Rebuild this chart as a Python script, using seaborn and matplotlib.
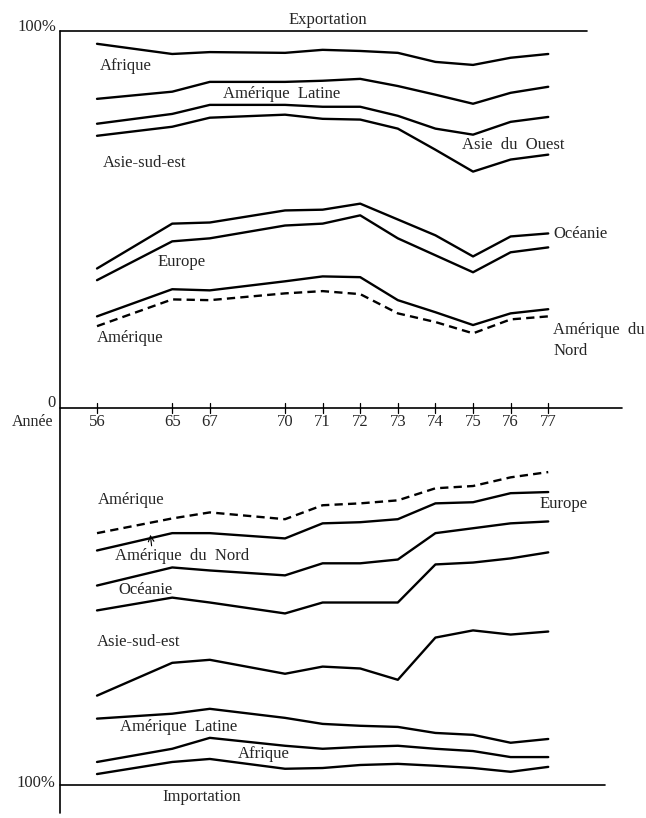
import matplotlib
matplotlib.use("Agg")
import matplotlib.pyplot as plt
import seaborn as sns

sns.set_style("white")
plt.rcParams["font.family"] = ["Liberation Serif", "DejaVu Serif"]

# years on the x axis (the scale is not linear in the original: 56-65 and 67-70 squeezed)
years = ["56", "65", "67", "70", "71", "72", "73", "74", "75", "76", "77"]
x_pos = [0, 2, 3, 5, 6, 7, 8, 9, 10, 11, 12]

# Exportation: cumulative shares (%) from 0 at the bottom, boundaries top -> bottom
exp_afrique_top = [96.6, 93.9, 94.4, 94.2, 95.0, 94.7, 94.2, 91.8, 91.0, 92.9, 93.9]
exp_am_latine_top = [82.0, 83.9, 86.5, 86.5, 86.8, 87.3, 85.4, 83.1, 80.7, 83.6, 85.2]
exp_asie_ouest_top = [75.4, 78.0, 80.4, 80.4, 79.9, 79.9, 77.5, 74.1, 72.5, 75.9, 77.2]
exp_asie_se_top = [72.2, 74.6, 77.0, 77.8, 76.7, 76.5, 74.1, 68.5, 62.7, 65.9, 67.2]
exp_oceanie_top = [37.0, 48.9, 49.2, 52.4, 52.6, 54.2, 50.0, 45.8, 40.2, 45.5, 46.3]
exp_europe_top = [33.9, 44.2, 45.0, 48.4, 48.9, 51.1, 45.0, 40.5, 36.0, 41.3, 42.6]
exp_amerique_top = [24.3, 31.5, 31.2, 33.6, 34.9, 34.7, 28.6, 25.4, 22.0, 25.1, 26.2]
exp_am_nord_top = [21.7, 28.8, 28.6, 30.4, 31.0, 30.2, 25.1, 22.8, 19.8, 23.5, 24.3]

# Importation: cumulative shares (%) measured downward from 0, boundaries top -> bottom
imp_am_nord = [33.2, 29.3, 27.7, 29.5, 25.8, 25.3, 24.5, 21.3, 20.7, 18.4, 17.0]
imp_amerique = [37.8, 33.2, 33.2, 34.6, 30.6, 30.3, 29.5, 25.3, 25.0, 22.6, 22.3]
imp_europe = [47.1, 42.3, 43.1, 44.4, 41.2, 41.2, 40.2, 33.2, 31.9, 30.6, 30.1]
imp_oceanie = [53.7, 50.3, 51.6, 54.5, 51.6, 51.6, 51.6, 41.5, 41.0, 39.9, 38.3]
imp_asie_se = [76.3, 67.6, 66.8, 70.5, 68.6, 69.1, 72.1, 60.9, 59.0, 60.1, 59.3]
imp_am_latine = [82.4, 81.1, 79.8, 82.2, 83.8, 84.3, 84.6, 86.2, 86.7, 88.8, 87.8]
imp_afrique = [93.9, 90.4, 87.5, 89.6, 90.4, 89.9, 89.6, 90.4, 91.0, 92.6, 92.6]
imp_autres = [97.1, 93.9, 93.1, 95.7, 95.5, 94.7, 94.4, 94.9, 95.5, 96.5, 95.2]

export_lines = [
    (exp_afrique_top, "-"), (exp_am_latine_top, "-"), (exp_asie_ouest_top, "-"),
    (exp_asie_se_top, "-"), (exp_oceanie_top, "-"), (exp_europe_top, "-"),
    (exp_amerique_top, "-"), (exp_am_nord_top, "--"),
]
import_lines = [
    (imp_am_nord, "--"), (imp_amerique, "-"), (imp_europe, "-"), (imp_oceanie, "-"),
    (imp_asie_se, "-"), (imp_am_latine, "-"), (imp_afrique, "-"), (imp_autres, "-"),
]

fig = plt.figure(figsize=(6.46, 8.18), dpi=100)
ax = fig.add_axes([0, 0, 1, 1])
ax.set_xlim(-2.58, 14.6)
ax.set_ylim(-108.76, 108.22)
ax.axis("off")

for vals, ls in export_lines:
    sns.lineplot(x=x_pos, y=vals, ax=ax, color="black", lw=1.7, linestyle=ls)
for vals, ls in import_lines:
    sns.lineplot(x=x_pos, y=[-v for v in vals], ax=ax, color="black", lw=1.7,
                 linestyle=ls)

for line in ax.lines:
    if line.get_linestyle() == "--":
        line.set_dashes([3.5, 2.2])

# frame
fk = dict(color="black", lw=1.2)
ax.plot([-0.98, -0.98], [100, -107.4], **fk)
ax.plot([-0.98, 13.03], [100, 100], **fk)
ax.plot([-0.98, 13.96], [0, 0], **fk)
ax.plot([-0.98, 13.5], [-100, -100], **fk)
for xp, yl in zip(x_pos, years):
    ax.plot([xp, xp], [-1.2, 1.2], color="black", lw=0.9)
    ax.text(xp, -3.8, yl, ha="center", va="center", fontsize=12)

fs = 12
ax.text(-1.08, 101.0, "100%", ha="right", va="center", fontsize=fs)
ax.text(-1.1, 1.4, "0", ha="right", va="center", fontsize=fs)
ax.text(-1.15, -3.7, "Année", ha="right", va="center", fontsize=11.5)
ax.text(-1.12, -99.6, "100%", ha="right", va="center", fontsize=fs)
ax.text(6.14, 103.0, "Exportation", ha="center", va="center", fontsize=fs)
ax.text(2.79, -103.3, "Importation", ha="center", va="center", fontsize=fs)

# series labels, export
ax.text(0.08, 90.7, "Afrique", va="center", fontsize=fs)
ax.text(3.35, 83.3, "Amérique  Latine", va="center", fontsize=fs)
ax.text(9.71, 69.8, "Asie  du  Ouest", va="center", fontsize=fs)
ax.text(0.16, 65.0, "Asie-sud-est", va="center", fontsize=fs)
ax.text(1.6, 38.7, "Europe", va="center", fontsize=fs)
ax.text(0.0, 18.6, "Amérique", va="center", fontsize=fs)
ax.text(12.13, 46.2, "Océanie", va="center", fontsize=fs)
ax.text(12.13, 18.0, "Amérique  du\nNord", va="center", fontsize=fs, linespacing=1.4)

# series labels, import
ax.text(0.03, -24.4, "Amérique", va="center", fontsize=fs)
ax.text(0.48, -39.3, "Amérique  du  Nord", va="center", fontsize=fs)
ax.annotate("", xy=(1.41, -32.9), xytext=(1.46, -37.3),
            arrowprops=dict(arrowstyle="->", lw=0.8, color="black"))
ax.text(0.56, -48.3, "Océanie", va="center", fontsize=fs)
ax.text(11.78, -25.5, "Europe", va="center", fontsize=fs)
ax.text(0.0, -62.1, "Asie-sud-est", va="center", fontsize=fs)
ax.text(0.61, -84.6, "Amérique  Latine", va="center", fontsize=fs)
ax.text(3.75, -91.8, "Afrique", va="center", fontsize=fs)

fig.savefig("out.png", dpi=100, facecolor="white")
